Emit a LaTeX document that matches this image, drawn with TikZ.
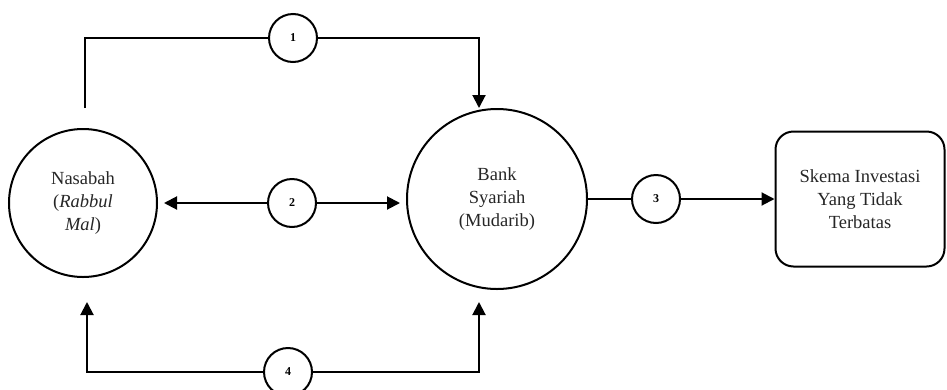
\documentclass[tikz,border=0pt]{standalone}
\usepackage{fontspec}
\setmainfont{Liberation Serif}
\usetikzlibrary{arrows.meta}
\begin{document}
\begin{tikzpicture}[x=1pt,y=-1pt,
  ln/.style={line width=2pt},
  arr/.style={line width=2pt,-{Triangle[length=13pt,width=13pt]}},
  bigc/.style={circle,draw,line width=2pt,inner sep=0pt,align=center,font=\fontsize{18.5}{23}\selectfont,text=black!85},
  numc/.style={circle,draw,line width=2pt,minimum size=48pt,inner sep=0pt,font=\fontsize{12}{14}\selectfont\bfseries},
  boxr/.style={draw,line width=2pt,rounded corners=18pt,minimum width=169pt,minimum height=135pt,align=center,font=\fontsize{18.5}{23}\selectfont,text=black!85}]
\useasboundingbox (0,0) rectangle (947,389);
\node[bigc,minimum size=148pt] (nas) at (83,203) {Nasabah\\(\textit{Rabbul}\\\textit{Mal})};
\node[bigc,minimum size=180pt] (bank) at (497,199) {Bank\\Syariah\\(Mudarib)};
\node[boxr] (skema) at (860,199) {Skema Investasi\\Yang Tidak\\Terbatas};
\node[numc] (c1) at (293,38) {1};
\node[numc] (c2) at (292,203) {2};
\node[numc] (c3) at (656,199) {3};
\node[numc] (c4) at (288,372) {4};
\coordinate (t1) at (85,108);
\coordinate (t2) at (400,203);
\coordinate (t4l) at (87,302);
\coordinate (t4r) at (479,302);
% 1
\draw[ln] (t1) |- (c1.west);
\draw[arr] (c1.east) -| ([xshift=-18pt]bank.north);
% 2
\draw[arr] (c2.west) -- ([xshift=6pt]nas.east);
\draw[arr] (c2.east) -- (t2);
% 3
\draw[ln] (bank.east) -- (c3.west);
\draw[arr] (c3.east) -- (skema.west);
% 4
\draw[arr] (c4.west) -| (t4l);
\draw[arr] (c4.east) -| (t4r);
\end{tikzpicture}
\end{document}
